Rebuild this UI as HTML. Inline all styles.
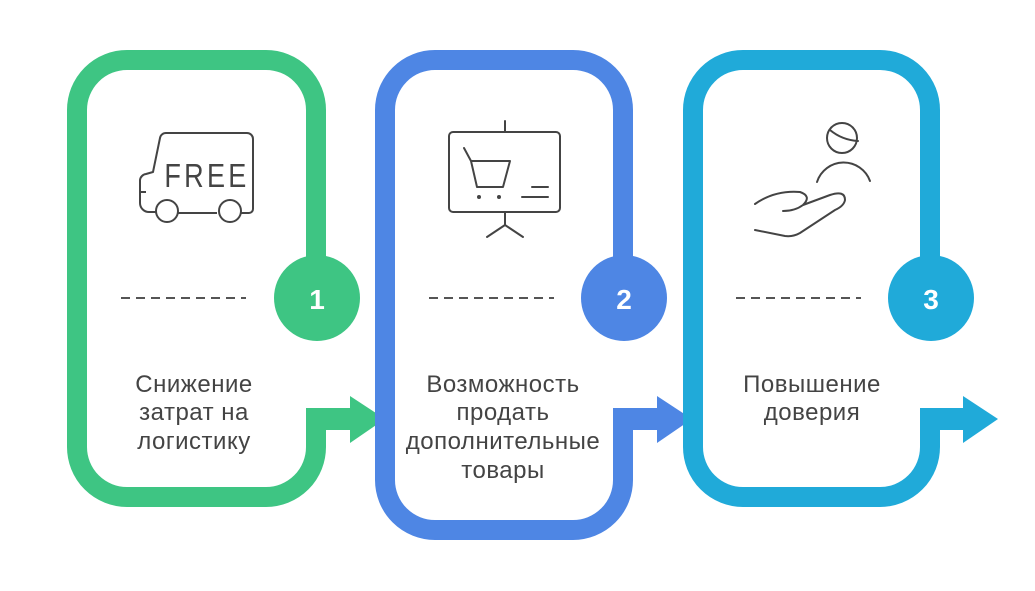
<!DOCTYPE html>
<html><head><meta charset="utf-8"><style>
html,body{margin:0;padding:0;background:#fff;}
svg{display:block}
text{font-family:"Liberation Sans",sans-serif;}
</style></head><body>
<svg width="1035" height="591" viewBox="0 0 1035 591" xmlns="http://www.w3.org/2000/svg">
<!-- Card 1 -->
<g fill="none" stroke="#3EC583" stroke-width="20">
<path d="M316 258 V110 a50 50 0 0 0 -50 -50 H127 a50 50 0 0 0 -50 50 V447 a50 50 0 0 0 50 50 H266 a50 50 0 0 0 50 -50 V408"/>
</g>
<path d="M306 408 H350 V396 L385 419 L350 443 V430 H326 V420 H306Z" fill="#3EC583"/>
<circle cx="317" cy="298" r="43" fill="#3EC583"/>
<text x="317" y="309" text-anchor="middle" font-size="28" font-weight="bold" fill="#fff">1</text>
<!-- Card 2 -->
<g fill="none" stroke="#4E86E4" stroke-width="20">
<path d="M623 258 V110 a50 50 0 0 0 -50 -50 H435 a50 50 0 0 0 -50 50 V480 a50 50 0 0 0 50 50 H573 a50 50 0 0 0 50 -50 V408"/>
</g>
<path d="M613 408 H657 V396 L692 419 L657 443 V430 H633 V420 H613Z" fill="#4E86E4"/>
<circle cx="624" cy="298" r="43" fill="#4E86E4"/>
<text x="624" y="309" text-anchor="middle" font-size="28" font-weight="bold" fill="#fff">2</text>
<!-- Card 3 -->
<g fill="none" stroke="#20AAD9" stroke-width="20">
<path d="M930 258 V110 a50 50 0 0 0 -50 -50 H743 a50 50 0 0 0 -50 50 V447 a50 50 0 0 0 50 50 H880 a50 50 0 0 0 50 -50 V408"/>
</g>
<path d="M920 408 H963 V396 L998 419 L963 443 V430 H940 V420 H920Z" fill="#20AAD9"/>
<circle cx="931" cy="298" r="43" fill="#20AAD9"/>
<text x="931" y="309" text-anchor="middle" font-size="28" font-weight="bold" fill="#fff">3</text>
<!-- dashes -->
<g stroke="#555" stroke-width="2" stroke-dasharray="9 6">
<line x1="121" y1="298" x2="246" y2="298"/>
<line x1="429" y1="298" x2="554" y2="298"/>
<line x1="736" y1="298" x2="861" y2="298"/>
</g>
<!-- texts -->
<g font-size="24" fill="#444" text-anchor="middle" letter-spacing="0.5">
<text x="194" y="392">Снижение</text>
<text x="194" y="420">затрат на</text>
<text x="194" y="449">логистику</text>
<text x="503" y="392">Возможность</text>
<text x="503" y="420">продать</text>
<text x="503" y="449">дополнительные</text>
<text x="503" y="478">товары</text>
<text x="812" y="392">Повышение</text>
<text x="812" y="420">доверия</text>
</g>
<!-- truck icon -->
<g fill="none" stroke="#444" stroke-width="2" stroke-linejoin="round">
<path d="M157 212 H149 a9 9 0 0 1 -9 -9 V180 a7 7 0 0 1 6 -6 L153 172 L160 138 a6 6 0 0 1 6 -5 H247 a6 6 0 0 1 6 6 V209 a4 4 0 0 1 -4 4 H241"/>
<path d="M178 213 H217"/>
<circle cx="167" cy="211" r="11" fill="#fff"/>
<circle cx="230" cy="211" r="11" fill="#fff"/>
<path d="M140 192 H146"/>
</g>
<text x="207" y="187" text-anchor="middle" font-size="33" fill="#444" letter-spacing="4" transform="translate(207 0) scale(0.82 1) translate(-207 0)">FREE</text>
<!-- board icon -->
<g fill="none" stroke="#444" stroke-width="2" stroke-linecap="round" stroke-linejoin="round">
<rect x="449" y="132" width="111" height="80" rx="4"/>
<path d="M505 121 V132 M505 212 V225 L487 237 M505 225 L523 237"/>
<path d="M464 148 L471 161 H510 L503 187 H477 L471 161"/>
<path d="M532 187 H548 M522 197 H548"/>
</g>
<circle cx="479" cy="197" r="2" fill="#444"/><circle cx="499" cy="197" r="2" fill="#444"/>
<!-- hand icon -->
<g fill="none" stroke="#444" stroke-width="2" stroke-linecap="round">
<circle cx="842" cy="138" r="15"/>
<path d="M830 130 Q842 140 858 141"/>
<path d="M817 182 A28 28 0 0 1 870 181"/>
<path d="M755 204 Q775 190 800 192 Q812 196 803 205 Q795 211 783 211 M803 205 L830 195 Q845 190 845 200 Q844 206 835 210 L800 233 Q793 237 785 236 L755 230"/>
</g>
</svg>
</body></html>
